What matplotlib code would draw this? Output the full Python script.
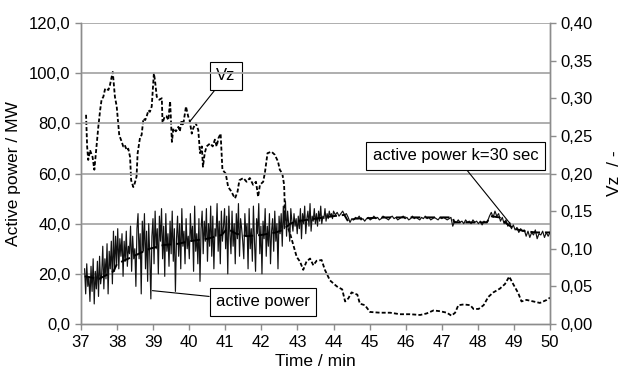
import numpy as np
import matplotlib
matplotlib.use("Agg")
import matplotlib.pyplot as plt
from matplotlib.ticker import FuncFormatter

# ---------------- data ----------------
# raw active power (MW), noisy part 37.1 .. 44.0 min
power_raw_a = [
    22, 12, 24, 15, 19, 9, 23, 13, 26, 8, 21, 14, 25, 11, 27, 16, 20,
    31, 14, 26, 18, 32, 12, 29, 22, 33, 16, 37, 21, 35,
    24, 38, 22, 34, 27, 36, 19, 33, 25, 37, 23, 31, 28, 39, 21, 35, 26,
    30, 15, 38, 44, 26, 36, 12, 41, 29, 44, 22, 37, 17, 40, 27, 10, 35,
    42, 24, 45, 30, 38, 20, 43, 33, 46, 26, 39, 19, 44, 29, 36, 23, 41,
    28, 45, 25, 38, 13, 34, 43, 27, 40, 22, 46, 31, 37, 24, 42, 30, 35,
    26, 44, 33, 39, 21, 47, 29, 36, 24, 42, 17, 38, 45, 28, 41, 33, 46,
    25, 40, 31, 47, 27, 43, 22, 38, 35, 48, 29, 41, 24, 45, 33, 39, 46,
    30, 43, 20, 47, 36, 28, 45, 31, 40, 24, 44, 34, 48, 27, 42, 38, 33,
    26, 44, 35, 40, 22, 46, 30, 38, 25, 47, 33, 21, 42, 36, 48, 28, 39,
    20, 41, 34, 46, 27, 39, 31, 44, 24, 37, 42, 29, 45, 33, 40, 22, 43,
    36, 44, 31, 47, 38, 49, 35, 45, 40, 33, 46, 41, 37, 44, 39, 42, 36,
    43, 38, 46, 34, 44, 40, 47, 36, 42, 45, 39, 48, 37, 43, 41, 46, 40,
    44, 39, 45, 41, 47, 40, 43, 42, 46, 41, 44, 42, 45, 43, 44, 42, 45,
]
# raw active power (MW), calm part 44.05 .. 50.0 min
power_raw_b = [
    43.5, 44.5, 43, 44, 45, 43.5, 44, 42.5,
    40.5, 42, 41.5, 42.5, 42, 43, 41.5, 42, 41, 42,
    42.5, 41.5, 42, 43, 42, 42.5, 41.5, 42, 43, 42.5, 42, 41.5, 42.5, 43, 42, 42.5, 41.5, 42, 42.5, 43,
    42, 42.5, 41.5, 42, 43, 42, 42.5, 42, 41.5, 42.5, 42, 43, 42, 42.5, 41.5, 42, 42.5, 42, 41.5, 42.5,
    42, 42.5, 42, 41.5, 42, 42.5,
    39, 41, 40.5, 41.5, 40.5, 41, 40, 41.5, 40.5, 41, 40, 41.5, 40.5, 41, 40, 41, 39.5, 41, 40.5, 41,
    43, 44.5, 42.5, 45, 43, 44,
    41, 42.5, 40, 41.5, 39, 40.5, 38, 39.5,
    37.5, 38.5, 36.5, 38, 37, 37.5,
    35, 37, 34.5, 36.5, 35.5, 37.5, 34, 36, 35.5, 37, 34.5, 36.5, 35, 36.5,
]

# smoothed active power k=30 sec
smooth_t = [37.1, 37.3, 37.5, 37.7, 37.9, 38.0, 38.3, 38.6, 38.9, 39.3, 39.7, 40.0,
            40.5, 40.9, 41.05, 41.3, 41.6, 42.0, 42.4, 42.6, 42.8, 43.0, 43.5, 44.0,
            44.3, 44.4, 44.6, 45.5, 46.5, 47.3, 47.35, 47.8, 48.25, 48.35, 48.6, 48.8,
            49.0, 49.3, 49.6, 50.0]
smooth_p = [19, 18.5, 18, 19.5, 21, 24, 26, 28, 30, 31.5, 32, 33,
            34, 35.5, 38, 36, 35, 35.5, 36.5, 37.5, 40, 41, 42, 43,
            43.5, 41, 42, 42.5, 42.5, 42.5, 40.5, 40.5, 40.5, 43, 42.5, 40,
            38, 37, 36.5, 36.5]

# Vz (right axis)
vz_t = [37.14, 37.17, 37.20, 37.25, 37.32, 37.37, 37.43, 37.48, 37.53, 37.57, 37.62, 37.67,
        37.76, 37.80, 37.88, 37.94, 37.99, 38.06, 38.13, 38.17, 38.21, 38.27, 38.31, 38.36,
        38.39, 38.45, 38.49, 38.54, 38.57, 38.64, 38.68, 38.73, 38.78, 38.82, 38.87, 38.91,
        38.96, 39.02, 39.05, 39.10, 39.17, 39.24, 39.26, 39.32, 39.37, 39.42, 39.47, 39.52,
        39.56, 39.63, 39.70, 39.74, 39.79, 39.83, 39.91, 39.97, 40.01, 40.07, 40.11, 40.18,
        40.25, 40.30, 40.35, 40.38, 40.43, 40.48, 40.58, 40.65, 40.71, 40.76, 40.81, 40.87,
        40.92, 41.01, 41.08, 41.17, 41.22, 41.27, 41.34, 41.39, 41.50, 41.59, 41.68, 41.77,
        41.85, 41.91, 41.96, 42.05, 42.10, 42.17, 42.28, 42.37, 42.46, 42.51, 42.58, 42.63,
        42.66, 42.79, 42.98, 43.07, 43.16, 43.25, 43.35, 43.44, 43.53, 43.67, 43.76, 43.90,
        44.09, 44.24, 44.32, 44.41, 44.50, 44.66, 44.73, 44.87, 45.01, 45.29, 45.57, 45.84,
        46.12, 46.40, 46.58, 46.77, 46.95, 47.14, 47.27, 47.37, 47.46, 47.61, 47.79, 47.88,
        48.02, 48.16, 48.29, 48.43, 48.61, 48.75, 48.87, 48.98, 49.12, 49.21, 49.35, 49.54,
        49.72, 49.91, 50.0]
vz_v = [0.278, 0.236, 0.218, 0.231, 0.222, 0.205, 0.236, 0.262, 0.284, 0.298, 0.302, 0.313,
        0.311, 0.317, 0.335, 0.302, 0.289, 0.251, 0.242, 0.236, 0.238, 0.231, 0.233, 0.222,
        0.191, 0.182, 0.187, 0.196, 0.227, 0.249, 0.251, 0.273, 0.271, 0.276, 0.284, 0.282,
        0.289, 0.333, 0.324, 0.302, 0.298, 0.300, 0.267, 0.276, 0.276, 0.271, 0.296, 0.242,
        0.260, 0.256, 0.262, 0.256, 0.271, 0.264, 0.289, 0.276, 0.271, 0.253, 0.260, 0.267,
        0.258, 0.227, 0.236, 0.209, 0.227, 0.236, 0.240, 0.236, 0.245, 0.236, 0.247, 0.253,
        0.205, 0.200, 0.182, 0.176, 0.171, 0.167, 0.176, 0.191, 0.194, 0.189, 0.194, 0.185,
        0.189, 0.169, 0.185, 0.189, 0.202, 0.227, 0.229, 0.225, 0.216, 0.205, 0.200, 0.185,
        0.138, 0.121, 0.089, 0.083, 0.072, 0.083, 0.087, 0.078, 0.084, 0.085, 0.072, 0.058,
        0.050, 0.046, 0.030, 0.034, 0.042, 0.039, 0.027, 0.025, 0.016, 0.015, 0.015, 0.013,
        0.013, 0.012, 0.014, 0.018, 0.017, 0.015, 0.011, 0.015, 0.025, 0.026, 0.025, 0.020,
        0.020, 0.025, 0.036, 0.042, 0.047, 0.053, 0.063, 0.053, 0.041, 0.030, 0.032, 0.030,
        0.028, 0.032, 0.035]

x_ticks = list(range(37, 51))
left_ticks = [0, 20, 40, 60, 80, 100, 120]
right_ticks = [0.0, 0.05, 0.10, 0.15, 0.20, 0.25, 0.30, 0.35, 0.40]

# ---------------- plot ----------------
plt.rcParams['font.family'] = ['Liberation Sans', 'DejaVu Sans']
plt.rcParams['font.size'] = 12

fig = plt.figure(figsize=(6.22, 3.74), dpi=100)
ax = fig.add_axes([81/622, 1 - 324/374, (550-81)/622, (324-23)/374])
ax2 = ax.twinx()

grid_c = '#a8a8a8'
spine_c = '#8c8c8c'

t_a = np.linspace(37.1, 44.0, len(power_raw_a))
t_b = np.linspace(44.05, 50.0, len(power_raw_b))
t_raw = np.concatenate([t_a, t_b])
p_raw = np.concatenate([power_raw_a, power_raw_b])

for y in left_ticks[1:]:
    ax.axhline(y, color=grid_c, lw=1.3, zorder=0)

ax.plot(t_raw, p_raw, color='#111111', lw=0.85, zorder=3)
ax.plot(smooth_t, smooth_p, color='black', lw=1.4, dashes=(5, 2.5), zorder=4)
ax2.plot(vz_t, vz_v, color='black', lw=1.3, dashes=(2.2, 1.2), zorder=4)

ax.set_xlim(37, 50)
ax.set_ylim(0, 120)
ax2.set_ylim(0, 0.40)
ax.set_xticks(x_ticks)
ax.set_yticks(left_ticks)
ax2.set_yticks(right_ticks)
ax.yaxis.set_major_formatter(FuncFormatter(lambda v, p: f"{v:.1f}".replace('.', ',')))
ax2.yaxis.set_major_formatter(FuncFormatter(lambda v, p: f"{v:.2f}".replace('.', ',')))

for a in (ax, ax2):
    for s in a.spines.values():
        s.set_color(spine_c)
        s.set_linewidth(1.0)
    a.spines['top'].set_visible(False)
    a.tick_params(colors=spine_c, labelcolor='black', labelsize=12, length=4, width=1)
ax.tick_params(axis='x', pad=4)

ax.set_xlabel('Time / min', fontsize=12.5, labelpad=3)
ax.set_ylabel('Active power / MW', fontsize=12.5, labelpad=6)
ax2.set_ylabel('Vz  / -', fontsize=12.5, labelpad=10)

ax.set_zorder(ax2.get_zorder() + 1)
ax.patch.set_visible(False)

bbox = dict(boxstyle='square,pad=0.38', fc='white', ec='black', lw=0.8)
ap = dict(arrowstyle='-', color='black', lw=0.8, shrinkA=0, shrinkB=0)
ax2.annotate('Vz', xy=(40.0, 0.268), xytext=(41.02, 0.3296), fontsize=12,
             bbox=bbox, arrowprops=ap, va='center', ha='center', zorder=10)
ax.annotate('active power k=30 sec', xy=(48.89, 40.1), xytext=(47.38, 67.0), fontsize=12,
            bbox=bbox, arrowprops=ap, va='center', ha='center', zorder=10)
ax.annotate('active power', xy=(38.98, 13.3), xytext=(42.04, 8.8), fontsize=12,
            bbox=bbox, arrowprops=ap, va='center', ha='center', zorder=10)

fig.savefig('out.png', dpi=100)
